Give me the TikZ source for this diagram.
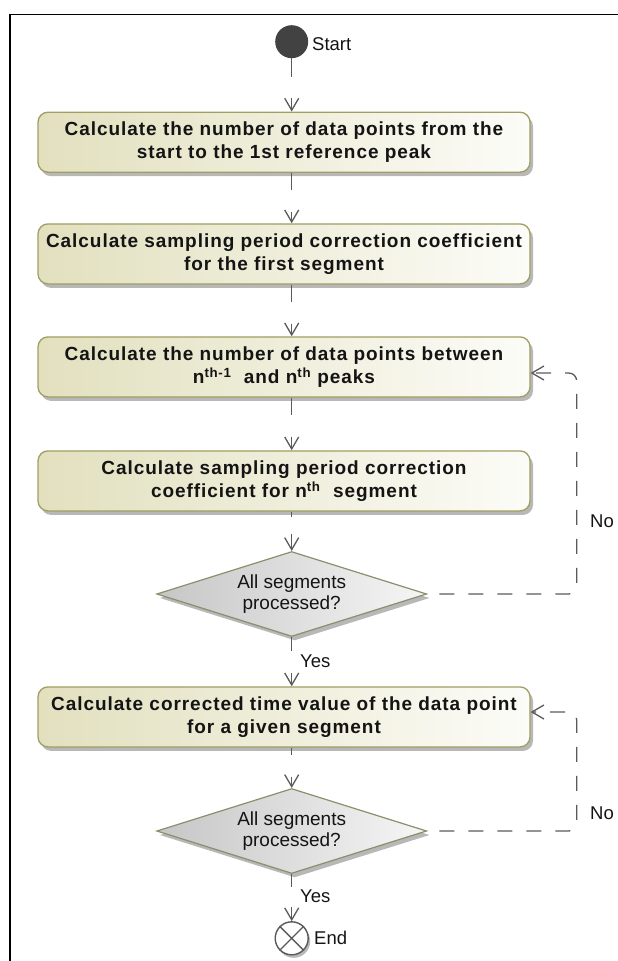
\documentclass[tikz,border=0pt]{standalone}
\usepackage{fontspec}
\setmainfont{Liberation Sans}
\newfontfamily\boxfont[LetterSpace=5]{Liberation Sans}
\usetikzlibrary{shapes.geometric,arrows.meta,shadows}
\definecolor{boxborder}{HTML}{A09E62}
\definecolor{boxleft}{HTML}{E2E0BE}
\definecolor{boxright}{HTML}{FCFCF8}
\definecolor{diaborder}{HTML}{8E8D6E}
\definecolor{dialeft}{HTML}{C6C6C6}
\definecolor{diaright}{HTML}{F6F6F6}
\definecolor{linegray}{HTML}{5A5A5A}
\definecolor{txt}{HTML}{141414}
\definecolor{dotfill}{HTML}{424242}
\begin{document}
\begin{tikzpicture}[x=1pt,y=-1pt,
  actbox/.style={draw=boxborder, line width=1.3pt, rounded corners=10pt,
    left color=boxleft, right color=boxright,
    minimum width=492pt, minimum height=60pt, inner sep=0pt, align=center,
    font=\boxfont\bfseries\fontsize{19pt}{23pt}\selectfont, text=txt,
    drop shadow={shadow xshift=3pt, shadow yshift=-4pt, fill=black!28, opacity=1}},
  decision/.style={diamond, draw=diaborder, line width=1.2pt,
    left color=dialeft, right color=diaright, aspect=3.18,
    minimum width=270pt, minimum height=85pt, inner sep=0pt, align=center,
    font=\fontsize{19pt}{21.7pt}\selectfont, text=txt,
    drop shadow={shadow xshift=3pt, shadow yshift=-4pt, fill=black!28, opacity=1}},
  startdot/.style={circle, fill=dotfill, minimum size=33pt, inner sep=0pt},
  enddot/.style={circle, draw=linegray, line width=1.4pt, fill=white, minimum size=33pt, inner sep=0pt,
    drop shadow={shadow xshift=2pt, shadow yshift=-3pt, fill=black!28, opacity=1}},
  lbl/.style={inner sep=0pt, anchor=west, text=txt, font=\fontsize{18.5pt}{20pt}\selectfont},
  flow/.style={draw=linegray, line width=1.3pt, -{Straight Barb[length=12pt,width=14pt]}},
  brk/.style 2 args={dash pattern=on #1 off #2 on 400pt},
  loopd/.style={draw=linegray, line width=1.3pt, dash pattern=on 15pt off 14pt, dash phase=17pt,
    rounded corners=8pt, -{Straight Barb[length=12pt,width=14pt]}}
]
\useasboundingbox (0,0) rectangle (618,961);
% frame
\draw[black, line width=1.6pt] (10,961) -- (10,14.5) -- (618,14.5);

\coordinate (ax) at (291.7,0);
\node[startdot] (start) at (291.7,41.7) {};
\node[lbl] (startlbl) at (312,44) {Start};

\node[actbox] (b1) at (284,142.2) {Calculate the number of data points from the\\start to the 1st reference peak};
\node[actbox] (b2) at (284,253.9) {Calculate sampling period correction coefficient\\for the first segment};
\node[actbox] (b3) at (284,366.9) {Calculate the number of data points between\\n\textsuperscript{th-1}\ \ and n\textsuperscript{th} peaks};
\node[actbox] (b4) at (284,480.9) {Calculate sampling period correction\\coefficient for n\textsuperscript{th}\ \ segment};
\node[decision] (d1) at (291.7,594) {All segments\\processed?};
\node[actbox] (b5) at (284,716.9) {Calculate corrected time value of the data point\\for a given segment};
\node[decision] (d2) at (291.7,831) {All segments\\processed?};
\node[enddot] (end) at (291.7,938.3) {};
\draw[linegray, line width=1.3pt] (end.north east) -- (end.south west) (end.north west) -- (end.south east);
\node[lbl] (endlbl) at (314,938.3) {End};

% main flow
\draw[flow, brk={19pt}{21pt}] (start.south) -- (b1.north -| ax);
\draw[flow, brk={17pt}{22pt}] (b1.south -| ax) -- (b2.north -| ax);
\draw[flow, brk={17pt}{22pt}] (b2.south -| ax) -- (b3.north -| ax);
\draw[flow, brk={17pt}{22pt}] (b3.south -| ax) -- (b4.north -| ax);
\draw[flow, brk={5pt}{17pt}] (b4.south -| ax) -- (d1.north);
\draw[flow, brk={14pt}{22pt}] (d1.south) -- (b5.north -| ax);
\draw[flow, brk={7pt}{22pt}] (b5.south -| ax) -- (d2.north);
\draw[flow, brk={13pt}{20pt}] (d2.south) -- (end.north);

\node[lbl] (yes1) at (300,661.7) {Yes};
\node[lbl] (yes2) at (300,896.7) {Yes};

% loops
\coordinate (l1) at (576.7,373);
\coordinate (l2) at (576.7,712);
\draw[loopd] (d1.east) -- (d1.east -| l1) -- (l1) -- (l1 -| b3.east);
\draw[loopd] (d2.east) -- (d2.east -| l2) -- (l2) -- (l2 -| b5.east);
\node[lbl] (no1) at (590,521.7) {No};
\node[lbl] (no2) at (590,813.3) {No};
\end{tikzpicture}
\end{document}
